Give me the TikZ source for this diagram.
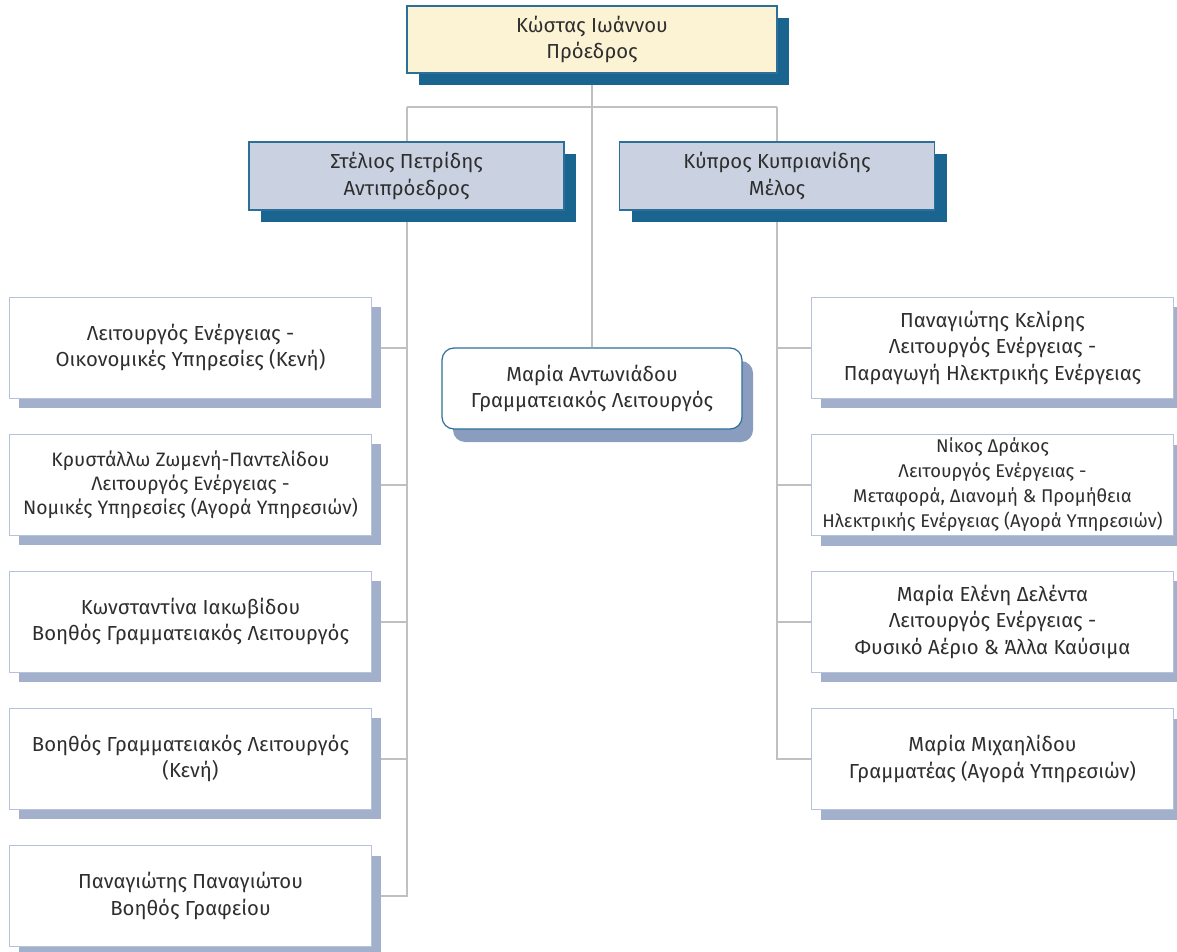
\documentclass[tikz,border=0pt]{standalone}
\usepackage{fontspec}
\setmainfont{Fira Sans}
\usetikzlibrary{shadows,backgrounds}
\definecolor{cream}{HTML}{FCF3D4}
\definecolor{darkblue}{HTML}{1A6490}
\definecolor{edgeblue}{HTML}{2C6F98}
\definecolor{greyblue}{HTML}{CAD2E2}
\definecolor{lightedge}{HTML}{B4C2DD}
\definecolor{lightshadow}{HTML}{A3B0CB}
\definecolor{midshadow}{HTML}{8A9DBE}
\definecolor{linegrey}{HTML}{C0C0C0}
\definecolor{txt}{HTML}{2E2E2E}
\tikzset{
  basebox/.style={rectangle, align=center, text=txt, inner sep=0pt,
    font=\fontsize{20.3}{26.5}\selectfont},
  topbox/.style={basebox, fill=cream, draw=edgeblue, line width=1.2pt,
    minimum width=370pt, minimum height=67pt,
    drop shadow={shadow xshift=12pt, shadow yshift=-12pt, fill=darkblue, opacity=1}},
  secbox/.style={basebox, fill=greyblue, draw=edgeblue, line width=1.2pt,
    minimum width=315pt, minimum height=68pt,
    drop shadow={shadow xshift=12pt, shadow yshift=-12pt, fill=darkblue, opacity=1}},
  midbox/.style={basebox, fill=white, draw=edgeblue, line width=1.2pt, rounded corners=12pt,
    minimum width=300pt, minimum height=81pt,
    drop shadow={shadow xshift=11pt, shadow yshift=-13pt, fill=midshadow, opacity=1}},
  staffbox/.style={basebox, fill=white, draw=lightedge, line width=1pt,
    minimum width=362pt, minimum height=101pt,
    drop shadow={shadow xshift=9pt, shadow yshift=-10pt, fill=lightshadow, opacity=1}},
  conn/.style={draw=linegrey, line width=2pt},
}
\begin{document}
\begin{tikzpicture}[x=1pt,y=-1pt]
\useasboundingbox (0,0) rectangle (1177,952);

\node[topbox] (top) at (592,39.5) {Κώστας Ιωάννου\\Πρόεδρος};
\node[secbox] (vp) at (406.5,176) {Στέλιος Πετρίδης\\Αντιπρόεδρος};
\node[secbox] (mem) at (777,176) {Κύπρος Κυπριανίδης\\Μέλος};
\node[midbox] (mid) at (592,388.5) {Μαρία Αντωνιάδου\\Γραμματειακός Λειτουργός};

\node[staffbox] (l1) at (190.5,347.5) {Λειτουργός Ενέργειας -\\Οικονομικές Υπηρεσίες (Κενή)};
\node[staffbox, font=\fontsize{19.4}{23.8}\selectfont] (l2) at (190.5,484.5) {Κρυστάλλω Ζωμενή-Παντελίδου\\Λειτουργός Ενέργειας -\\Νομικές Υπηρεσίες (Αγορά Υπηρεσιών)};
\node[staffbox] (l3) at (190.5,621.5) {Κωνσταντίνα Ιακωβίδου\\Βοηθός Γραμματειακός Λειτουργός};
\node[staffbox] (l4) at (190.5,758.5) {Βοηθός Γραμματειακός Λειτουργός\\(Κενή)};
\node[staffbox] (l5) at (190.5,896) {Παναγιώτης Παναγιώτου\\Βοηθός Γραφείου};

\node[staffbox] (r1) at (992.5,347.5) {Παναγιώτης Κελίρης\\Λειτουργός Ενέργειας -\\Παραγωγή Ηλεκτρικής Ενέργειας};
\node[staffbox, font=\fontsize{18.4}{25}\selectfont] (r2) at (992.5,485) {Νίκος Δράκος\\Λειτουργός Ενέργειας -\\Μεταφορά, Διανομή \& Προμήθεια\\Ηλεκτρικής Ενέργειας (Αγορά Υπηρεσιών)};
\node[staffbox] (r3) at (992.5,621.5) {Μαρία Ελένη Δελέντα\\Λειτουργός Ενέργειας -\\Φυσικό Αέριο \& Άλλα Καύσιμα};
\node[staffbox] (r4) at (992.5,759) {Μαρία Μιχαηλίδου\\Γραμματέας (Αγορά Υπηρεσιών)};

\coordinate (j) at (592,107.5);

\begin{scope}[on background layer]
  \draw[conn] (top.south) -- (mid.north);
  \draw[conn] (vp.center |- j) -- (mem.center |- j);
  \draw[conn] (vp.center |- j) -- (vp.center |- l5.east) -- (l5.east);
  \draw[conn] (mem.center |- j) -- (mem.center |- r4.west) -- (r4.west);
  \foreach \n in {l1,l2,l3,l4} \draw[conn] (\n.east) -- (vp.center |- \n.east);
  \foreach \n in {r1,r2,r3} \draw[conn] (\n.west) -- (mem.center |- \n.west);
\end{scope}
\end{tikzpicture}
\end{document}
